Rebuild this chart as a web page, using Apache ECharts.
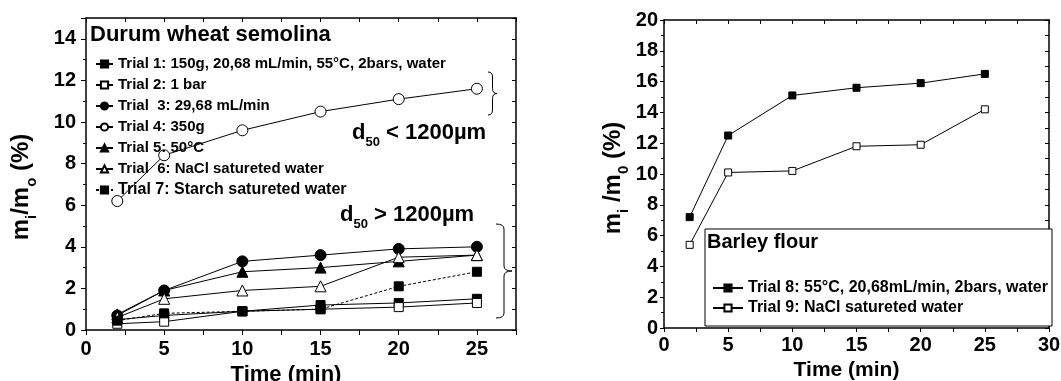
<!DOCTYPE html>
<html>
<head>
<meta charset="utf-8">
<script src="https://cdn.jsdelivr.net/npm/echarts@6/dist/echarts.min.js"></script>
<style>
  html, body { margin: 0; padding: 0; background: #fff; }
  #chart { width: 1061px; height: 381px; }
</style>
</head>
<body>
<div id="chart"></div>
<script>
// sampling times (min)
var times = [2, 5, 10, 15, 20, 25];
// Durum wheat semolina, m_i/m_o (%)
var trial1 = [0.5, 0.7, 0.9, 1.2, 1.3, 1.5];
var trial2 = [0.3, 0.4, 0.9, 1.0, 1.1, 1.3];
var trial3 = [0.7, 1.9, 3.3, 3.6, 3.9, 4.0];
var trial4 = [6.2, 8.4, 9.6, 10.5, 11.1, 11.6];
var trial5 = [0.75, 1.9, 2.8, 3.0, 3.3, 3.6];
var trial6 = [0.6, 1.5, 1.9, 2.1, 3.5, 3.6];
var trial7 = [0.45, 0.8, 0.9, 1.0, 2.1, 2.8];
// Barley flour
var trial8 = [7.2, 12.5, 15.1, 15.6, 15.9, 16.5];
var trial9 = [5.4, 10.1, 10.2, 11.8, 11.9, 14.2];

var leftNames = [
  'Trial 1: 150g, 20,68 mL/min, 55°C, 2bars, water',
  'Trial 2: 1 bar',
  'Trial  3: 29,68 mL/min',
  'Trial 4: 350g',
  'Trial 5: 50°C',
  'Trial  6: NaCl satureted water',
  'Trial 7: Starch satureted water'
];
var rightNames = [
  'Trial 8: 55°C, 20,68mL/min, 2bars, water',
  'Trial 9: NaCl satureted water'
];

var FONT = '"Liberation Sans", Arial, sans-serif';

function pairs(ys) {
  var out = [];
  for (var i = 0; i < times.length; i++) out.push([times[i], ys[i]]);
  return out;
}

//一条序列
function line(name, ys, symbol, filled, size, idx, dashed) {
  return {
    name: name,
    type: 'line',
    xAxisIndex: idx,
    yAxisIndex: idx,
    data: pairs(ys),
    symbol: symbol,
    symbolSize: size,
    showAllSymbol: true,
    animation: false,
    lineStyle: { color: '#000', width: 1, type: dashed ? [3, 2] : 'solid' },
    itemStyle: { color: filled ? '#000' : '#fff', borderColor: '#000', borderWidth: 1 }
  };
}

var axisLine = { show: true, onZero: false, lineStyle: { color: '#000', width: 1.5 } };
var labelStyle = { color: '#000', fontSize: 20, fontWeight: 'bold', fontFamily: FONT };

function yName(pad) {
  return {
    padding: pad,
    rich: {
      m: { fontSize: 24, fontWeight: 'bold', fontFamily: FONT, color: '#000', lineHeight: 36 },
      s: { fontSize: 15, fontWeight: 'bold', fontFamily: FONT, color: '#000', verticalAlign: 'bottom' }
    }
  };
}

//大括号
function brace(x, y0, y1, w) {
  var ym = (y0 + y1) / 2, xm = x + w / 2, r = 5;
  var st = { stroke: '#000', lineWidth: 1, fill: null };
  return {
    type: 'group', z: 5,
    children: [
      { type: 'bezierCurve', shape: { x1: x, y1: y0, x2: xm, y2: y0 + r, cpx1: xm, cpy1: y0 }, style: st },
      { type: 'line', shape: { x1: xm, y1: y0 + r, x2: xm, y2: ym - r }, style: st },
      { type: 'bezierCurve', shape: { x1: xm, y1: ym - r, x2: x + w, y2: ym, cpx1: xm, cpy1: ym }, style: st },
      { type: 'bezierCurve', shape: { x1: x + w, y1: ym, x2: xm, y2: ym + r, cpx1: xm, cpy1: ym }, style: st },
      { type: 'line', shape: { x1: xm, y1: ym + r, x2: xm, y2: y1 - r }, style: st },
      { type: 'bezierCurve', shape: { x1: xm, y1: y1 - r, x2: x, y2: y1, cpx1: xm, cpy1: y1 }, style: st }
    ]
  };
}

var dRich = {
  b: { fontSize: 22, fontWeight: 'bold', fontFamily: FONT, color: '#000', lineHeight: 32 },
  s: { fontSize: 13, fontWeight: 'bold', fontFamily: FONT, color: '#000', verticalAlign: 'bottom' }
};

var myChart = echarts.init(document.getElementById('chart'));
var option = {
  backgroundColor: '#fff',
  animation: false,
  grid: [
    { left: 86, right: 545, top: 18, bottom: 51, outerBoundsMode: 'none' },
    { left: 664, right: 12, top: 20, bottom: 53, outerBoundsMode: 'none' }
  ],
  xAxis: [
    {
      gridIndex: 0, type: 'value', min: 0, max: 27.5, interval: 5,
      axisLine: axisLine, axisTick: { show: true, inside: false, length: 5, lineStyle: { color: '#000' } },
      minorTick: { show: true, splitNumber: 2, length: 5, lineStyle: { color: '#000' } },
      splitLine: { show: false },
      axisLabel: Object.assign({ margin: 9, showMaxLabel: false }, labelStyle),
      name: 'Time (min)', nameLocation: 'middle', nameGap: 23,
      nameTextStyle: { color: '#000', fontSize: 22, fontWeight: 'bold', fontFamily: FONT, padding: [0, 30, 0, 0] }
    },
    {
      gridIndex: 0, type: 'value', position: 'top', min: 0, max: 27.5, interval: 2.5,
      axisLine: axisLine, axisTick: { show: true, inside: true, length: 4, lineStyle: { color: '#000' } },
      axisLabel: { show: false }, splitLine: { show: false }
    },
    {
      gridIndex: 1, type: 'value', min: 0, max: 30, interval: 5,
      axisLine: axisLine, axisTick: { show: true, inside: false, length: 4, lineStyle: { color: '#000' } },
      minorTick: { show: true, splitNumber: 2, length: 4, lineStyle: { color: '#000' } },
      splitLine: { show: false },
      axisLabel: Object.assign({ margin: 7 }, labelStyle),
      name: 'Time (min)', nameLocation: 'middle', nameGap: 30,
      nameTextStyle: { color: '#000', fontSize: 21, fontWeight: 'bold', fontFamily: FONT, padding: [0, 20, 0, 0] }
    },
    {
      gridIndex: 1, type: 'value', position: 'top', min: 0, max: 30, interval: 2.5,
      axisLine: axisLine, axisTick: { show: true, inside: true, length: 4, lineStyle: { color: '#000' } },
      axisLabel: { show: false }, splitLine: { show: false }
    }
  ],
  yAxis: [
    {
      gridIndex: 0, type: 'value', min: 0, max: 15, interval: 2,
      axisLine: axisLine, axisTick: { show: true, inside: false, length: 5, lineStyle: { color: '#000' } },
      minorTick: { show: true, splitNumber: 2, length: 3, lineStyle: { color: '#000' } },
      splitLine: { show: false },
      axisLabel: Object.assign({ margin: 10, showMaxLabel: false }, labelStyle),
      name: '{m|m}{s|i}{m|/m}{s|o}{m| (%)}', nameLocation: 'middle', nameGap: 47,
      nameTextStyle: yName([0, 26, 0, 0])
    },
    {
      gridIndex: 0, type: 'value', position: 'right', min: 0, max: 15, interval: 1,
      axisLine: axisLine, axisTick: { show: true, inside: true, length: 4, lineStyle: { color: '#000' } },
      axisLabel: { show: false }, splitLine: { show: false }
    },
    {
      gridIndex: 1, type: 'value', min: 0, max: 20, interval: 2,
      axisLine: axisLine, axisTick: { show: true, inside: false, length: 4, lineStyle: { color: '#000' } },
      minorTick: { show: true, splitNumber: 2, length: 3, lineStyle: { color: '#000' } },
      splitLine: { show: false },
      axisLabel: Object.assign({ margin: 6 }, labelStyle),
      name: '{m|m}{s|i}{m| /m}{s|0}{m| (%)}', nameLocation: 'middle', nameGap: 33,
      nameTextStyle: yName([0, 8, 0, 0])
    },
    {
      gridIndex: 1, type: 'value', position: 'right', min: 0, max: 20, interval: 1,
      axisLine: axisLine, axisTick: { show: true, inside: true, length: 4, lineStyle: { color: '#000' } },
      axisLabel: { show: false }, splitLine: { show: false }
    }
  ],
  legend: [
    {
      orient: 'vertical', left: 90, top: 51, itemWidth: 17, itemHeight: 9, itemGap: 5,
      data: leftNames.map(function (n, i) {
        return i === 6 ? { name: n, textStyle: { fontSize: 16 } } : { name: n };
      }),
      textStyle: { color: '#000', fontSize: 15, fontWeight: 'bold', fontFamily: FONT, lineHeight: 16 },
      selectedMode: false
    },
    {
      orient: 'vertical', left: 707, top: 275, itemWidth: 30, itemHeight: 9, itemGap: 4,
      data: rightNames,
      textStyle: { color: '#000', fontSize: 16, fontWeight: 'bold', fontFamily: FONT, lineHeight: 16 },
      selectedMode: false, z: 6
    }
  ],
  graphic: [
    { type: 'text', left: 90, top: 24, z: 5,
      style: { text: 'Durum wheat semolina', fill: '#000', font: 'bold 22px ' + FONT } },
    { type: 'text', left: 352, top: 122, z: 5,
      style: { text: '{b|d}{s|50}{b| < 1200µm}', rich: dRich } },
    { type: 'text', left: 340, top: 204, z: 5,
      style: { text: '{b|d}{s|50}{b| > 1200µm}', rich: dRich } },
    brace(488, 72, 115, 9),
    brace(496, 224, 318, 16),
    { type: 'rect', z: 5, shape: { x: 705, y: 229, width: 347, height: 97 },
      style: { fill: '#fff', stroke: '#000', lineWidth: 1 } },
    { type: 'text', left: 707, top: 232, z: 6,
      style: { text: 'Barley flour', fill: '#000', font: 'bold 20px ' + FONT } }
  ],
  series: [
    line(leftNames[0], trial1, 'rect', true, 9, 0),
    line(leftNames[1], trial2, 'rect', false, 9, 0),
    line(leftNames[2], trial3, 'circle', true, 11, 0),
    line(leftNames[3], trial4, 'circle', false, 11, 0),
    line(leftNames[4], trial5, 'triangle', true, 11, 0),
    line(leftNames[5], trial6, 'triangle', false, 11, 0),
    line(leftNames[6], trial7, 'rect', true, 9, 0, true),
    line(rightNames[0], trial8, 'rect', true, 7, 2),
    line(rightNames[1], trial9, 'rect', false, 7, 2)
  ]
};
myChart.setOption(option);
</script>
</body>
</html>
